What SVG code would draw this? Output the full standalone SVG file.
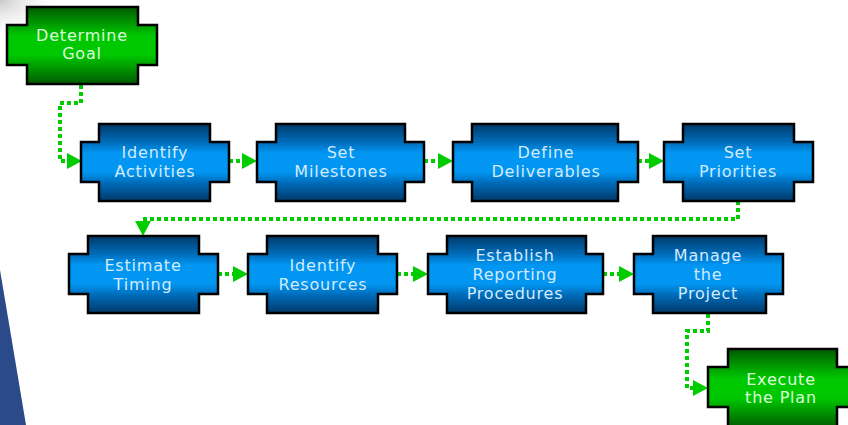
<svg xmlns="http://www.w3.org/2000/svg" width="848" height="425" viewBox="0 0 848 425">
  <defs>
    <linearGradient id="blue" x1="0" y1="0" x2="0" y2="1">
      <stop offset="0" stop-color="#003a6a"/>
      <stop offset="0.22" stop-color="#0068b4"/>
      <stop offset="0.38" stop-color="#0096f2"/>
      <stop offset="0.62" stop-color="#0096f2"/>
      <stop offset="0.78" stop-color="#0068b4"/>
      <stop offset="1" stop-color="#003a6a"/>
    </linearGradient>
    <linearGradient id="green" x1="0" y1="0" x2="0" y2="1">
      <stop offset="0" stop-color="#005a00"/>
      <stop offset="0.22" stop-color="#009a00"/>
      <stop offset="0.38" stop-color="#00c800"/>
      <stop offset="0.62" stop-color="#00c800"/>
      <stop offset="0.78" stop-color="#009a00"/>
      <stop offset="1" stop-color="#005a00"/>
    </linearGradient>
    <radialGradient id="corner" cx="0" cy="0" r="1">
      <stop offset="0" stop-color="#c8c8c8"/>
      <stop offset="1" stop-color="#ffffff" stop-opacity="0"/>
    </radialGradient>
    <marker id="arrow" viewBox="0 0 15 16" refX="0" refY="8" markerWidth="15" markerHeight="16" markerUnits="userSpaceOnUse" orient="auto">
      <path d="M0,0 L15,8 L0,16 Z" fill="#00cc00"/>
    </marker>
    <style>
      .b { fill: url(#blue); stroke: #000; stroke-width: 2.5; }
      .g { fill: url(#green); stroke: #000; stroke-width: 2.5; }
      .t { font-family: "DejaVu Sans", "Liberation Sans", sans-serif; font-size: 16px; letter-spacing: 0.8px; fill: #d4eaff; text-anchor: middle; }
      .tg { fill: #dcffdc; }
      .c { fill: none; stroke: #00cc00; stroke-width: 4; stroke-dasharray: 4 3; marker-end: url(#arrow); }
    </style>
  </defs>

  <rect width="848" height="425" fill="#ffffff"/>
  <rect x="0" y="0" width="60" height="40" fill="url(#corner)"/>
  <polygon points="0,270 26,425 0,425" fill="#2b4a8a"/>

  <g id="connectors">
    <path class="c" d="M81,85 V103 H60 V161 H67"/>
    <path class="c" d="M229,161 H242"/>
    <path class="c" d="M424,161 H438"/>
    <path class="c" d="M638,161 H649"/>
    <path class="c" d="M738,201 V219 H143 V221"/>
    <path class="c" d="M218,274 H233"/>
    <path class="c" d="M397,274 H413"/>
    <path class="c" d="M603,274 H619"/>
    <path class="c" d="M708,314 V331 H687 V388 H693"/>
  </g>

  <g id="determine-goal">
    <path class="g" d="M27,7 H138 V25 H157 V65 H138 V84 H27 V65 H7 V25 H27 Z"/>
    <text class="t tg" x="82" y="41">Determine</text>
    <text class="t tg" x="82" y="59">Goal</text>
  </g>

  <g id="identify-activities">
    <path class="b" d="M99,124 H210 V142 H229 V182 H210 V201 H99 V182 H81 V142 H99 Z"/>
    <text class="t" x="155" y="158">Identify</text>
    <text class="t" x="155" y="177">Activities</text>
  </g>

  <g id="set-milestones">
    <path class="b" d="M276,124 H405 V142 H424 V182 H405 V201 H276 V182 H257 V142 H276 Z"/>
    <text class="t" x="341" y="158">Set</text>
    <text class="t" x="341" y="177">Milestones</text>
  </g>

  <g id="define-deliverables">
    <path class="b" d="M472,124 H618 V142 H638 V182 H618 V201 H472 V182 H453 V142 H472 Z"/>
    <text class="t" x="546" y="158">Define</text>
    <text class="t" x="546" y="177">Deliverables</text>
  </g>

  <g id="set-priorities">
    <path class="b" d="M683,124 H794 V142 H813 V182 H794 V201 H683 V182 H664 V142 H683 Z"/>
    <text class="t" x="738" y="158">Set</text>
    <text class="t" x="738" y="177">Priorities</text>
  </g>

  <g id="estimate-timing">
    <path class="b" d="M88,236 H199 V254 H218 V294 H199 V313 H88 V294 H69 V254 H88 Z"/>
    <text class="t" x="143" y="271">Estimate</text>
    <text class="t" x="143" y="290">Timing</text>
  </g>

  <g id="identify-resources">
    <path class="b" d="M267,236 H378 V254 H397 V294 H378 V313 H267 V294 H248 V254 H267 Z"/>
    <text class="t" x="323" y="271">Identify</text>
    <text class="t" x="323" y="290">Resources</text>
  </g>

  <g id="establish-reporting-procedures">
    <path class="b" d="M447,236 H586 V254 H603 V294 H586 V313 H447 V294 H428 V254 H447 Z"/>
    <text class="t" x="515" y="261">Establish</text>
    <text class="t" x="515" y="280">Reporting</text>
    <text class="t" x="515" y="299">Procedures</text>
  </g>

  <g id="manage-the-project">
    <path class="b" d="M653,236 H766 V254 H783 V294 H766 V313 H653 V294 H634 V254 H653 Z"/>
    <text class="t" x="708" y="261">Manage</text>
    <text class="t" x="708" y="280">the</text>
    <text class="t" x="708" y="299">Project</text>
  </g>

  <g id="execute-the-plan">
    <path class="g" d="M728,349 H837 V367 H858 V407 H837 V428 H728 V407 H708 V367 H728 Z"/>
    <text class="t tg" x="781" y="385">Execute</text>
    <text class="t tg" x="781" y="403">the Plan</text>
  </g>
</svg>
